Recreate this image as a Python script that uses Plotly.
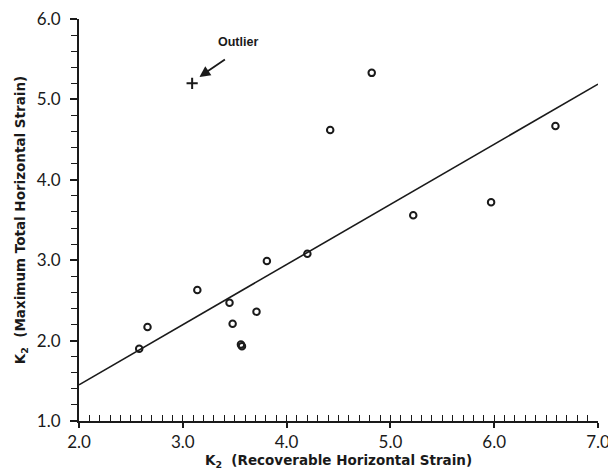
import plotly.graph_objects as go

# K2 values: recoverable horizontal strain (x) vs maximum total horizontal strain (y)
k2_recoverable = [2.58, 2.66, 3.14, 3.45, 3.48, 3.56, 3.57, 3.71, 3.81, 4.20, 4.42, 4.82, 5.22, 5.97, 6.59]
k2_total = [1.90, 2.17, 2.63, 2.47, 2.21, 1.95, 1.93, 2.36, 2.99, 3.08, 4.62, 5.33, 3.56, 3.72, 4.67]

# Excluded outlier
outlier_x = [3.09]
outlier_y = [5.20]

# Fitted line endpoints
fit_x = [2.0, 7.0]
fit_y = [1.45, 5.19]

x_ticks = [2.0, 3.0, 4.0, 5.0, 6.0, 7.0]
y_ticks = [1.0, 2.0, 3.0, 4.0, 5.0, 6.0]

fig = go.Figure()

fig.add_trace(go.Scatter(
    x=fit_x, y=fit_y, mode="lines",
    line=dict(color="#1a1a1a", width=1.6),
    showlegend=False, hoverinfo="skip", cliponaxis=False,
))

fig.add_trace(go.Scatter(
    x=k2_recoverable, y=k2_total, mode="markers",
    marker=dict(symbol="circle-open", size=6.5, color="#1a1a1a",
                line=dict(width=2, color="#1a1a1a")),
    showlegend=False,
))

fig.add_trace(go.Scatter(
    x=outlier_x, y=outlier_y, mode="markers",
    marker=dict(symbol="cross-thin-open", size=8, color="#1a1a1a",
                line=dict(width=2, color="#1a1a1a")),
    showlegend=False,
))

# invisible trace carrying the inner minor-tick axis
fig.add_trace(go.Scatter(x=[2.0], y=[1.0], xaxis="x2", mode="markers",
                         marker=dict(opacity=0), showlegend=False, hoverinfo="skip"))

tick_font = dict(family="Lato, DejaVu Sans, sans-serif", size=17, color="#1a1a1a")
title_font = dict(family="DejaVu Sans, sans-serif", size=13.5, color="#1a1a1a")

fig.update_layout(
    width=608, height=470,
    margin=dict(l=79, r=10, t=19, b=49),
    paper_bgcolor="white", plot_bgcolor="white",
    xaxis=dict(
        range=[2.0, 7.0], tickvals=x_ticks,
        ticktext=[f"{v:.1f}" for v in x_ticks],
        ticks="outside", ticklen=5, tickwidth=1.5, tickcolor="#1a1a1a",
        ticklabeloverflow="allow", automargin=False,
        showline=True, linecolor="#1a1a1a", linewidth=2,
        showgrid=False, zeroline=False, tickfont=tick_font,
        title=dict(text="<b>K<sub>2</sub>  (Recoverable Horizontal Strain)</b>",
                   font=title_font, standoff=0),
    ),
    xaxis2=dict(
        range=[2.0, 7.0], overlaying="x", anchor="y", side="bottom",
        dtick=0.1, tick0=2.0, ticks="inside", ticklen=6, tickwidth=1.3,
        tickcolor="#1a1a1a", showticklabels=False, showgrid=False,
        zeroline=False, showline=False, automargin=False,
    ),
    yaxis=dict(
        range=[1.0, 6.0], tickvals=y_ticks,
        ticktext=[f"{v:.1f}" for v in y_ticks],
        ticks="outside", ticklen=7, tickwidth=1.5, tickcolor="#1a1a1a",
        ticklabelstandoff=6, ticklabeloverflow="allow", automargin=False,
        minor=dict(dtick=0.2, ticks="outside", ticklen=6, tickwidth=1.3,
                   tickcolor="#1a1a1a", showgrid=False),
        showline=True, linecolor="#1a1a1a", linewidth=2,
        showgrid=False, zeroline=False, tickfont=tick_font,
        title=dict(text="<b>K<sub>2</sub>  (Maximum Total Horizontal Strain)</b>",
                   font=title_font, standoff=8),
    ),
    annotations=[
        dict(x=3.53, y=5.71, xref="x", yref="y", text="<b>Outlier</b>",
             showarrow=False, font=dict(family="Liberation Sans, Arial, sans-serif",
                                        size=12.5, color="#1a1a1a")),
        dict(x=3.16, y=5.28, ax=3.42, ay=5.51, xref="x", yref="y",
             axref="x", ayref="y", text="", showarrow=True,
             arrowhead=2, arrowsize=1.2, arrowwidth=1.8, arrowcolor="#1a1a1a"),
    ],
)

fig.write_html("out.html")
